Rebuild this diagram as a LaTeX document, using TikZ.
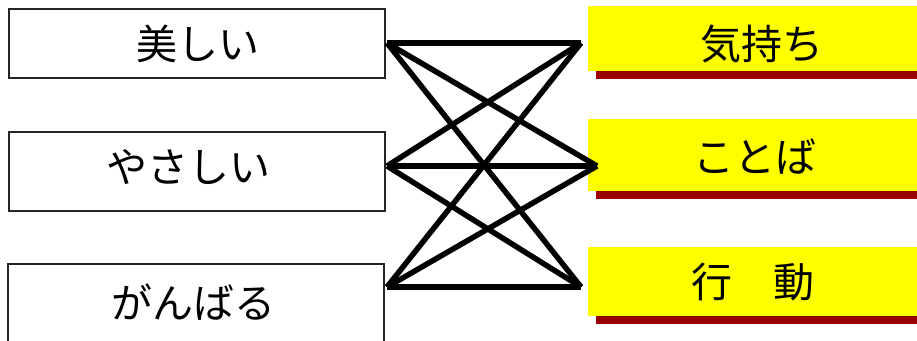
\documentclass[tikz,border=0pt]{standalone}
\usepackage{fontspec}
\newfontfamily\jp{Noto Sans CJK JP}
\definecolor{pureyellow}{RGB}{255,255,0}
\definecolor{shadowred}{RGB}{153,0,0}
\begin{document}
\begin{tikzpicture}[x=1pt,y=-1pt,
  leftbox/.style={draw=black!85,line width=1.6pt,fill=white,minimum width=376pt,anchor=north west,inner sep=0pt},
  rightbox/.style={fill=pureyellow,minimum width=329pt,anchor=north west,inner sep=0pt},
  shadowbar/.style={fill=shadowred},
  lbl/.style={font=\jp\fontsize{41}{44}\selectfont,inner sep=0pt},
  link/.style={line width=5.5pt,line cap=butt}]
\useasboundingbox (0,0) rectangle (917,340);
% left boxes
\node[leftbox,minimum height=69pt] (L1) at (8,8) {};
\node[leftbox,minimum height=79pt] (L2) at (8,131) {};
\draw[draw=black!85,line width=1.6pt,fill=white] (8,345) |- (384,264) -- (384,345);
\node[lbl] (t1) at (198,44) {美しい};
\node[lbl] (t2) at (188,167) {やさしい};
\node[lbl] (t3) at (193,302) {がんばる};
% right boxes with shadows
\fill[shadowbar] (596,71) rectangle (917,79);
\fill[shadowbar] (596,191) rectangle (917,199);
\fill[shadowbar] (596,316) rectangle (917,324);
\node[rightbox,minimum height=65pt] (R1) at (588,6) {};
\node[rightbox,minimum height=72pt] (R2) at (588,119) {};
\node[rightbox,minimum height=69pt] (R3) at (588,247) {};
\node[lbl] (u1) at (762,44) {気持ち};
\node[lbl] (u2) at (755,157) {ことば};
\node[lbl] (u3) at (753,282) {行　動};
% connection points
\coordinate (a1) at (387,43);
\coordinate (a2) at (387,166);
\coordinate (a3) at (387,287);
\coordinate (b1) at (581,43);
\coordinate (b2) at (597,166);
\coordinate (b3) at (581,287);
\foreach \i in {1,2,3}{\foreach \j in {1,2,3}{\draw[link] (a\i) -- (b\j);}}
\end{tikzpicture}
\end{document}
